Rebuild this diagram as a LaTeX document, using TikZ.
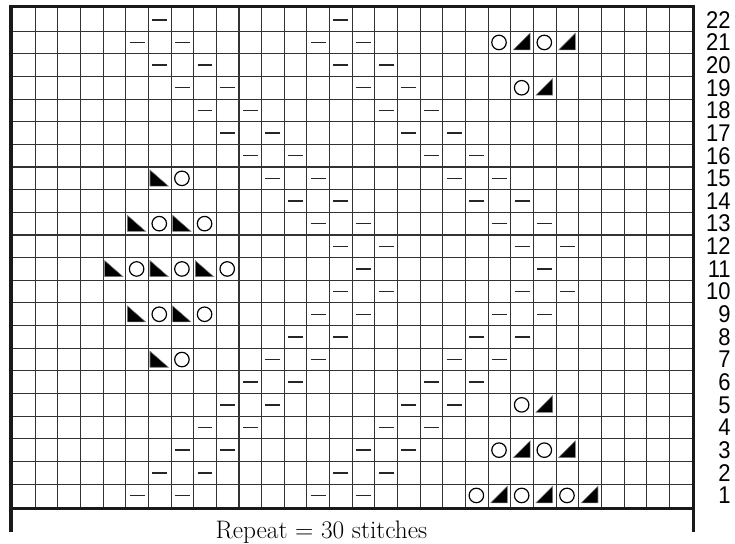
\documentclass[tikz,border=0pt]{standalone}
\usepackage{fontspec}
\newfontfamily\rownumfont{Liberation Sans}

\begin{document}
\begin{tikzpicture}[
    x=17pt, y=17pt,
    gridline/.style={draw=black!80, line width=0.8pt},
    frame/.style={draw=black!90, line width=2.6pt},
    purl/.style={draw=black!85, line width=1.1pt},
    yarnover/.style={draw=black, line width=0.9pt},
    decrease/.style={fill=black, draw=black!50, line width=0.4pt},
    rownum/.style={anchor=east, inner sep=0pt, yscale=1.1, transform shape,
      font=\rownumfont\fontsize{16.5}{16.5}\selectfont},
    label/.style={anchor=base, inner sep=0pt, font=\fontsize{19}{22}\selectfont}
  ]
    \useasboundingbox (-0.552,-1.642) rectangle (31.899,22.375);
    \foreach \c in {1,...,29}
      \draw[gridline] (\c,0) -- (\c,22);
    \foreach \r in {1,...,21}
      \draw[gridline] (0,\r) -- (30,\r);
    \draw[frame] (-0.076,-0.076) rectangle (30.076,22.076);
    \draw[frame] (-0.076,-0.076) -- (-0.076,-1.113);
    \draw[frame] (30.076,-0.076) -- (30.076,-1.113);
    \foreach \c/\r in {7/22,15/22,
        6/21,8/21,14/21,16/21, 7/20,9/20,15/20,17/20,
        8/19,10/19,16/19,18/19, 9/18,11/18,17/18,19/18,
        10/17,12/17,18/17,20/17, 11/16,13/16,19/16,21/16,
        12/15,14/15,20/15,22/15, 13/14,15/14,21/14,23/14,
        14/13,16/13,22/13,24/13, 15/12,17/12,23/12,25/12,
        16/11,24/11, 15/10,17/10,23/10,25/10,
        14/9,16/9,22/9,24/9, 13/8,15/8,21/8,23/8,
        12/7,14/7,20/7,22/7, 11/6,13/6,19/6,21/6,
        10/5,12/5,18/5,20/5, 9/4,11/4,17/4,19/4,
        8/3,10/3,16/3,18/3, 7/2,9/2,15/2,17/2,
        6/1,8/1,14/1,16/1}
      \draw[purl] (\c-0.83,\r-0.5) -- (\c-0.17,\r-0.5);
    \foreach \c/\r in {22/21,24/21, 23/19, 23/5, 22/3,24/3, 21/1,23/1,25/1,
        8/15, 7/13,9/13, 6/11,8/11,10/11, 7/9,9/9, 8/7}
      \draw[yarnover] (\c-0.52,\r-0.5) circle[radius=0.32];
    \foreach \c/\r in {23/21,25/21, 24/19, 24/5, 23/3,25/3, 22/1,24/1,26/1}
      \filldraw[decrease] (\c-0.89,\r-0.83) -- (\c-0.15,\r-0.83) -- (\c-0.15,\r-0.09) -- cycle;
    \foreach \c/\r in {7/15, 6/13,8/13, 5/11,7/11,9/11, 6/9,8/9, 7/7}
      \filldraw[decrease] (\c-0.93,\r-0.13) -- (\c-0.93,\r-0.84) -- (\c-0.12,\r-0.84) -- cycle;
    \foreach \r in {1,...,22}
      \node[rownum] (row\r) at (31.72,\r-0.5) {\r};
    \node[label] (repeat) at (13.64,-1.42) {Repeat = 30 stitches};
  \end{tikzpicture}
\end{document}
